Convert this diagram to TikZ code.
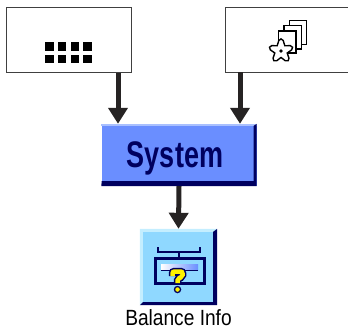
\documentclass[tikz,border=0pt]{standalone}
\usepackage{fontspec}
\setmainfont{Liberation Sans}
\usetikzlibrary{arrows.meta}
\definecolor{navy}{HTML}{00005F}
\definecolor{sysblue}{HTML}{6A8EFF}
\definecolor{sysedge}{HTML}{A9C0FF}
\definecolor{iconblue}{HTML}{8FD8FF}
\definecolor{iconedge}{HTML}{C4EEFF}
\definecolor{arrowgray}{HTML}{262323}
\begin{document}
\begin{tikzpicture}[x=1pt,y=-1pt]

      \tikzset{enclosed/.style={draw=black!75, fill=white, line width=.8pt, inner sep=0pt, minimum height=65pt},
               flow/.style={draw=arrowgray, line width=5pt, -{Triangle[width=19pt,length=16pt,fill=arrowgray]}},
               sq/.style={fill=black},
               sheet/.style={draw=black, fill=white, line width=1.3pt},
               rim/.style={fill=navy}}
      \useasboundingbox (0,0) rectangle (348,329);
%% Boxes
      	\node[enclosed, minimum width=125pt] (menu) at (68.5,40) {};
      	\node[enclosed, minimum width=126pt] (setup) at (288.5,39.5) {};
      	\node[fill=sysblue, minimum width=155pt, minimum height=62pt, inner sep=0pt] (system) at (179,155) {};
      	\node[fill=iconblue, minimum width=77pt, minimum height=76pt, inner sep=0pt] (info) at (178.5,267) {};
      	\node[inner sep=0pt, anchor=base, font=\fontsize{22}{22}\selectfont, xscale=.87] (infotext) at (178.5,325.5) {Balance Info};
%Bevels
		\fill[sysedge] (system.north west) rectangle ([yshift=-2pt]system.north east);
		\fill[rim] (system.north east) -- ([xshift=-3pt,yshift=-2pt]system.north east) -- ([xshift=-3pt,yshift=5pt]system.south east) -- ([xshift=-155pt,yshift=5pt]system.south east) -- (system.south west) -- (system.south east) -- cycle;
		\fill[iconedge] (info.north west) -- (info.north east) -- ([xshift=-4pt,yshift=-3pt]info.north east) -- ([xshift=3pt,yshift=-3pt]info.north west) -- ([xshift=3pt,yshift=3pt]info.south west) -- (info.south west) -- cycle;
		\fill[rim] (info.north east) -- ([xshift=-4pt,yshift=-3pt]info.north east) -- ([xshift=-4pt,yshift=3pt]info.south east) -- ([xshift=3pt,yshift=3pt]info.south west) -- (info.south west) -- (info.south east) -- cycle;
		\node[inner sep=0pt, anchor=base, text=navy, font=\bfseries\fontsize{37}{37}\selectfont, xscale=.73] (systext) at (175,167) {System};
%Edges
		\draw[flow] ([xshift=49.5pt]menu.south) -- ([xshift=-61pt]system.north);
		\draw[flow] ([xshift=-48.5pt]setup.south) -- ([xshift=61pt]system.north);
		\draw[flow] (system.south) -- (info.north);
%Keypad icon
		\foreach \x in {45,57.5,70.5,83.2} {
			\foreach \y in {42.4,54.6} {
				\fill[sq] (\x,\y) rectangle ++(8.5,8.6);
			}
		}
%Pages and gear icon
		\draw[sheet] (289.5,20.5) rectangle (306.5,44.5);
		\draw[sheet] (284,25.5) rectangle (301.5,49);
		\draw[sheet] (278.5,31) rectangle (296,53);
		\draw[black, fill=white, line width=1.4pt]
			plot[smooth cycle, samples at={0,12,...,348}] ({281+(9.3+2.8*cos(5*\x))*sin(\x)},{51-(9.3+2.8*cos(5*\x))*cos(\x)});
		\fill[black] (281,51) circle (1.8pt);
%Balance icon
		\draw[navy, line width=2pt] (158,247) -- (158,251.5) -- (200,251.5) -- (200,247);
		\draw[navy, line width=2pt] (178.5,251.5) -- (178.5,258);
		\draw[navy, line width=3pt, fill=iconblue] (155.5,258) rectangle (204,283);
		\shade[left color=white, right color=sysblue] (161,264) rectangle (198,270);
		\fill[navy] (161,270) rectangle (198,271);
		\foreach \w/\c in {7.5pt/navy,4.5pt/yellow} {
			\draw[\c, line width=\w, rounded corners=2pt] (172.5,276) -- (172.5,271.5) -- (182.5,271.5) -- (182.5,277) -- (177.5,278.5) -- (177.5,283);
			\fill[\c] (177.5,289.5) circle ({0.5*\w});
		}

	\end{tikzpicture}
\end{document}
